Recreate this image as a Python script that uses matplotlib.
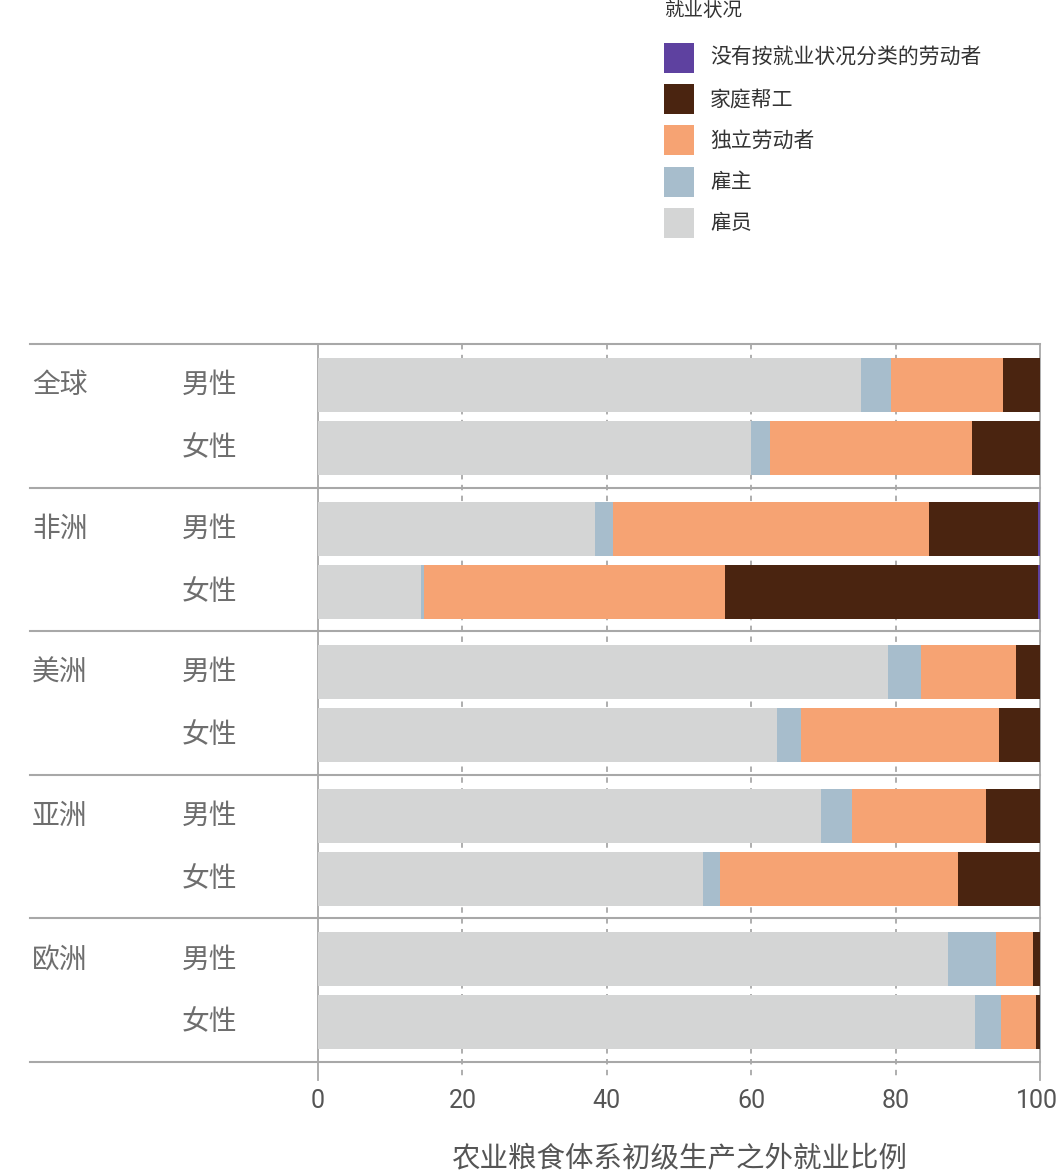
import matplotlib.pyplot as plt
from matplotlib.patches import Rectangle

plt.rcParams['font.family'] = ['Noto Sans CJK SC', 'DejaVu Sans']

# 数据
regions = ['全球', '非洲', '美洲', '亚洲', '欧洲']
genders = ['男性', '女性']
status_names = ['雇员', '雇主', '独立劳动者', '家庭帮工', '没有按就业状况分类的劳动者']
status_colors = ['#d4d5d5', '#a7bdcc', '#f6a373', '#4a2410', '#5e41a0']

# 每个柱子：男、女依次排列
employee = [75.2, 60.0, 38.4, 14.3, 78.9, 63.6, 69.7, 53.3, 87.3, 91.0]
employer = [4.2, 2.6, 2.5, 0.4, 4.6, 3.3, 4.2, 2.4, 6.6, 3.6]
own_account = [15.5, 28.0, 43.7, 41.7, 13.2, 27.4, 18.6, 32.9, 5.1, 4.8]
family_worker = [5.1, 9.4, 15.1, 43.3, 3.3, 5.7, 7.5, 11.4, 1.0, 0.6]
unclassified = [0, 0, 0.3, 0.3, 0, 0, 0, 0, 0, 0]
series = [employee, employer, own_account, family_worker, unclassified]

xticks = [0, 20, 40, 60, 80, 100]
xlabel = '农业粮食体系初级生产之外就业比例'
legend_title = '就业状况'

W, H = 1057, 1174
fig = plt.figure(figsize=(W / 100, H / 100), dpi=100)
ax = fig.add_axes([318 / W, 1 - 1062 / H, (1040 - 318) / W, (1062 - 344) / H])

line_col = '#a8a8a8'
text_col = '#6e6e6e'

# 柱子位置
bar_h = 54 / 143.5
ys = []
for i in range(len(regions)):
    ys.append(i + 41 / 143.5)
    ys.append(i + 104 / 143.5)

left = [0] * len(employee)
for vals, col in zip(series, status_colors):
    ax.barh(ys, vals, left=left, height=bar_h, color=col, linewidth=0, zorder=2)
    left = [l + v for l, v in zip(left, vals)]

ax.set_xlim(0, 100)
ax.set_ylim(len(regions), 0)
for s in ax.spines.values():
    s.set_visible(False)
ax.set_xticks([])
ax.set_yticks([])

# 网格线（延伸到坐标轴下方）
ext = 18 / 143.5
for t in xticks:
    ls = '-' if t in (0, 100) else (0, (3, 3))
    ax.plot([t, t], [0, len(regions) + ext], color=line_col, lw=1.3,
            linestyle=ls, clip_on=False, zorder=1)
    # 100 贴近右边缘，稍微左移
    xt = t - 0.4 if t == 100 else t
    ax.text(xt, len(regions) + 39 / 143.5, str(t), ha='center', va='center',
            fontsize=18, color='#555555', family=['Roboto', 'DejaVu Sans'])

# 分隔线
for i in range(len(regions) + 1):
    ax.plot([-39.9, 100], [i, i], color=line_col, lw=1.5, clip_on=False, zorder=1)

# 地区和性别标签
for i, r in enumerate(regions):
    ax.text(-39.6, i + 41 / 143.5, r, ha='left', va='center', fontsize=20,
            color=text_col)
    for j, g in enumerate(genders):
        ax.text(-18.9, ys[2 * i + j], g, ha='left', va='center', fontsize=20,
                color=text_col)

ax.text(50, len(regions) + 96 / 143.5, xlabel, ha='center', va='center',
        fontsize=20.5, color='#555555')

# 图例
fig.text(664 / W, 1 - 11 / H, legend_title, ha='left', va='center',
         fontsize=14, color='#333333')
for k in range(len(status_names)):
    idx = len(status_names) - 1 - k
    yc = 58 + k * 41.2
    fig.add_artist(Rectangle((664 / W, 1 - (yc + 15) / H), 30 / W, 30 / H,
                             transform=fig.transFigure, color=status_colors[idx],
                             linewidth=0))
    fig.text(710 / W, 1 - yc / H, status_names[idx], ha='left', va='center',
             fontsize=15, color='#333333')

fig.savefig('out.png', dpi=100)
